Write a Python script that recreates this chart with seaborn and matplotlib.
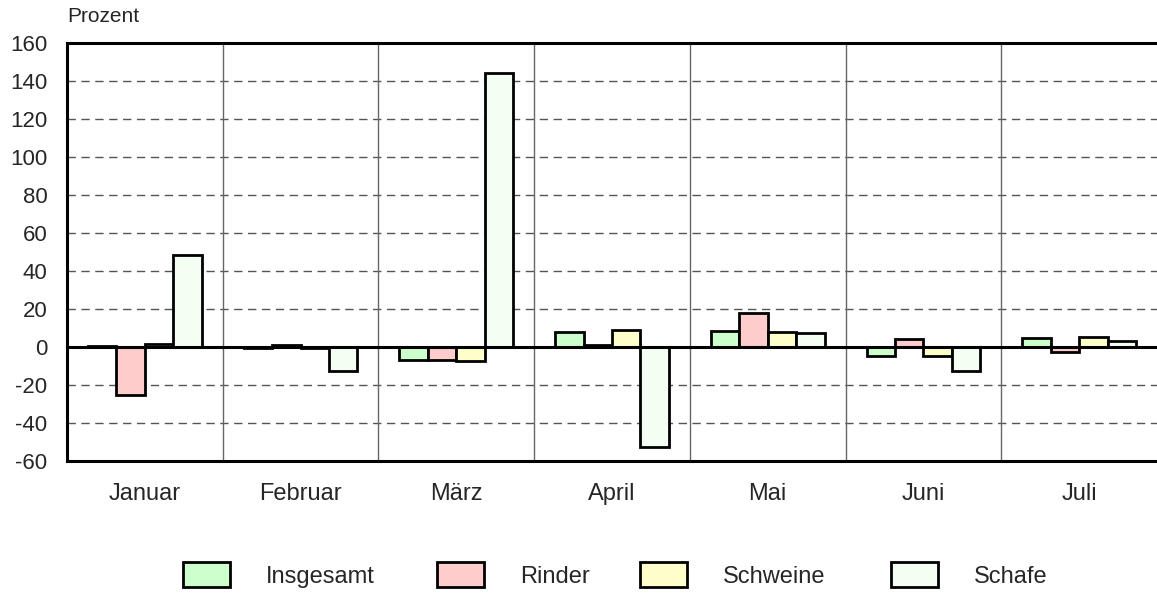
import pandas as pd
import matplotlib
matplotlib.use("Agg")
import matplotlib.pyplot as plt
import seaborn as sns

sns.set_style("white")
plt.rcParams['font.family'] = ['Liberation Sans', 'DejaVu Sans']

# Werte (Prozent)
months = ['Januar', 'Februar', 'März', 'April', 'Mai', 'Juni', 'Juli']
series = ['Insgesamt', 'Rinder', 'Schweine', 'Schafe']
insgesamt = [0.5, -0.3, -7.0, 7.7, 8.4, -4.9, 4.7]
rinder = [-25.5, 1.0, -6.7, 0.8, 17.9, 4.0, -2.5]
schweine = [1.5, -0.3, -7.5, 8.8, 7.9, -4.9, 5.1]
schafe = [48.5, -12.5, 144.0, -52.8, 7.4, -12.5, 3.3]
colors = ['#CCFFCC', '#FFCCCC', '#FFFFCC', '#F4FFF4']

df = pd.DataFrame({'Monat': months, 'Insgesamt': insgesamt, 'Rinder': rinder,
                   'Schweine': schweine, 'Schafe': schafe})
long = df.melt(id_vars='Monat', var_name='Art', value_name='Prozent')

fig = plt.figure(figsize=(11.57, 5.94), dpi=100)
ax = fig.add_axes([67 / 1157, 1 - 461 / 594, 1 - 67 / 1157, (461 - 43) / 594])

sns.barplot(data=long, x='Monat', y='Prozent', hue='Art', order=months,
            hue_order=series, palette=colors, width=0.73, edgecolor='black',
            linewidth=2, saturation=1, ax=ax, zorder=3)

ax.set_ylim(-60, 160)
ax.set_xlim(-0.5, 6.5)
ax.set_yticks(range(-60, 161, 20))
ax.set_yticklabels([str(v) for v in range(-60, 161, 20)])
ax.set_xlabel('')
ax.set_ylabel('')

# gestrichelte Hilfslinien und Monatstrenner
for y in range(-40, 160, 20):
    if y != 0:
        ax.axhline(y, color='#555555', lw=1, ls=(0, (6, 4)), zorder=1)
for x in [0.5, 1.5, 2.5, 3.5, 4.5, 5.5]:
    ax.axvline(x, color='#666666', lw=1, zorder=1)
ax.axhline(0, color='black', lw=2.2, zorder=4)

for side in ['left', 'top', 'bottom']:
    ax.spines[side].set_color('black')
    ax.spines[side].set_linewidth(2.2)
ax.spines['right'].set_visible(False)
ax.tick_params(axis='both', length=0)
ax.tick_params(axis='y', pad=14, labelsize=16)
ax.tick_params(axis='x', pad=16, labelsize=17)

fig.text(67 / 1157, 1 - 17 / 594, 'Prozent', fontsize=15, va='center', ha='left')

# Legende: jeder Eintrag einzeln platziert
handles, labels = ax.get_legend_handles_labels()
ax.get_legend().remove()
legend_x = [183, 437, 640, 891]
for h, lab, lx in zip(handles, labels, legend_x):
    fig.legend([h], [lab], loc='center left', bbox_to_anchor=(lx / 1157, 1 - 575 / 594),
               frameon=False, fontsize=17, handlelength=2.0, handleheight=1.23,
               handletextpad=1.5, borderpad=0, borderaxespad=0)

fig.savefig('out.png', dpi=100)
